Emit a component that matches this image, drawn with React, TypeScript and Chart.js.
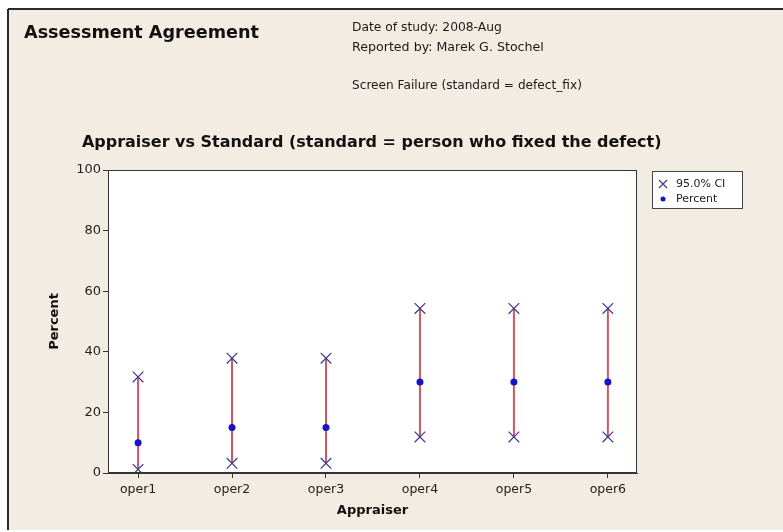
import React, { useEffect, useRef } from "react";
import { Chart, registerables } from "chart.js";

Chart.register(...registerables);

const CATEGORIES = ["oper1", "oper2", "oper3", "oper4", "oper5", "oper6"];
const PERCENT = [10, 15, 15, 30, 30, 30];
const CI_LOWER = [1.2, 3.2, 3.2, 11.9, 11.9, 11.9];
const CI_UPPER = [31.7, 37.9, 37.9, 54.3, 54.3, 54.3];
const Y_TICKS = [0, 20, 40, 60, 80, 100];

const MAIN_TITLE = "Assessment Agreement";
const HEADER_LINES = [
  "Date of study: 2008-Aug",
  "Reported by: Marek G. Stochel",
  "Screen Failure (standard = defect_fix)",
];
const CHART_TITLE = "Appraiser vs Standard (standard = person who fixed the defect)";
const X_TITLE = "Appraiser";
const Y_TITLE = "Percent";
const LEGEND_CI = "95.0% CI";
const LEGEND_PCT = "Percent";

const FONT = "'DejaVu Sans', Verdana, sans-serif";
const BEIGE = "#f2ece3";
const CI_LINE = "#d2555f";
const CI_MARK = "#3a3a8c";
const PCT_COLOR = "#1414cc";

function fitText(
  ctx: CanvasRenderingContext2D,
  text: string,
  x: number,
  y: number,
  width: number,
  weight: string,
  base: number,
  color: string
) {
  ctx.font = `${weight} ${base}px ${FONT}`;
  const w = ctx.measureText(text).width;
  const size = Math.max(6, base * (width / w));
  ctx.font = `${weight} ${size.toFixed(2)}px ${FONT}`;
  ctx.fillStyle = color;
  ctx.textAlign = "left";
  ctx.textBaseline = "middle";
  ctx.fillText(text, x, y);
}

const decorPlugin = {
  id: "decor",
  beforeDraw(chart: any) {
    const { ctx, chartArea } = chart;
    ctx.save();
    ctx.fillStyle = "#ffffff";
    ctx.fillRect(0, 0, chart.width, chart.height);
    ctx.fillStyle = BEIGE;
    ctx.fillRect(8, 9, chart.width - 8, 521);
    ctx.strokeStyle = "#2a2a2a";
    ctx.lineWidth = 2;
    ctx.beginPath();
    ctx.moveTo(8, 9);
    ctx.lineTo(chart.width, 9);
    ctx.moveTo(8, 9);
    ctx.lineTo(8, 530);
    ctx.stroke();
    ctx.fillStyle = "#ffffff";
    ctx.fillRect(chartArea.left, chartArea.top, chartArea.right - chartArea.left, chartArea.bottom - chartArea.top);
    ctx.restore();
  },
  afterDraw(chart: any) {
    const { ctx, chartArea } = chart;
    ctx.save();
    ctx.strokeStyle = "#333333";
    ctx.lineWidth = 1;
    ctx.strokeRect(chartArea.left + 0.5, chartArea.top + 0.5, chartArea.right - chartArea.left - 1, chartArea.bottom - chartArea.top - 1);

    fitText(ctx, MAIN_TITLE, 24, 33, 235, "bold", 18, "#111111");
    fitText(ctx, HEADER_LINES[0], 352, 28, 150, "normal", 11, "#1a1a1a");
    fitText(ctx, HEADER_LINES[1], 352, 48, 192, "normal", 11, "#1a1a1a");
    fitText(ctx, HEADER_LINES[2], 352, 86, 230, "normal", 11, "#1a1a1a");
    fitText(ctx, CHART_TITLE, 82, 143, 580, "bold", 14, "#111111");

    // legend
    const lx = 652, ly = 171, lw = 90, lh = 37;
    ctx.fillStyle = "#ffffff";
    ctx.fillRect(lx, ly, lw, lh);
    ctx.strokeStyle = "#444444";
    ctx.lineWidth = 1;
    ctx.strokeRect(lx + 0.5, ly + 0.5, lw, lh);
    ctx.strokeStyle = CI_MARK;
    ctx.lineWidth = 1.2;
    ctx.beginPath();
    ctx.moveTo(659, 180);
    ctx.lineTo(667, 188);
    ctx.moveTo(667, 180);
    ctx.lineTo(659, 188);
    ctx.stroke();
    ctx.fillStyle = PCT_COLOR;
    ctx.beginPath();
    ctx.arc(663, 199, 2.5, 0, Math.PI * 2);
    ctx.fill();
    ctx.font = `normal 11px ${FONT}`;
    ctx.fillStyle = "#222222";
    ctx.textAlign = "left";
    ctx.textBaseline = "middle";
    ctx.fillText(LEGEND_CI, 676, 184);
    ctx.fillText(LEGEND_PCT, 676, 199);
    ctx.restore();
  },
};

export default function App() {
  const ref = useRef<HTMLCanvasElement>(null);

  useEffect(() => {
    document.body.style.margin = "0";
    const canvas = ref.current;
    if (!canvas) return;

    const ciLineData: any[] = [];
    const ciMarkData: any[] = [];
    CATEGORIES.forEach((_, i) => {
      ciLineData.push({ x: i + 1, y: CI_LOWER[i] });
      ciLineData.push({ x: i + 1, y: CI_UPPER[i] });
      ciLineData.push({ x: i + 1.5, y: null });
      ciMarkData.push({ x: i + 1, y: CI_LOWER[i] });
      ciMarkData.push({ x: i + 1, y: CI_UPPER[i] });
    });
    const pctData = PERCENT.map((v, i) => ({ x: i + 1, y: v }));

    const chart = new Chart(canvas, {
      type: "scatter",
      data: {
        datasets: [
          {
            label: LEGEND_PCT,
            data: pctData,
            pointStyle: "circle",
            pointRadius: 3.5,
            backgroundColor: PCT_COLOR,
            borderColor: PCT_COLOR,
            borderWidth: 0,
            order: 1,
          },
          {
            label: LEGEND_CI,
            data: ciMarkData,
            pointStyle: "crossRot",
            pointRadius: 7.5,
            borderColor: CI_MARK,
            backgroundColor: CI_MARK,
            borderWidth: 1.2,
            order: 2,
          },
          {
            label: "CI range",
            type: "line",
            data: ciLineData,
            showLine: true,
            spanGaps: false,
            borderColor: CI_LINE,
            borderWidth: 2,
            pointRadius: 0,
            order: 3,
          } as any,
        ],
      },
      options: {
        responsive: false,
        animation: false,
        layout: { padding: { left: 0, top: 170, right: 146, bottom: 0 } },
        plugins: {
          legend: { display: false },
          title: { display: false },
          tooltip: { enabled: false },
        },
        scales: {
          x: {
            type: "linear",
            min: 0.68,
            max: 6.31,
            afterBuildTicks: (scale: any) => {
              scale.ticks = CATEGORIES.map((_, i) => ({ value: i + 1 }));
            },
            afterFit: (scale: any) => {
              scale.height = 59;
            },
            ticks: {
              color: "#222222",
              font: { family: FONT, size: 12.5 },
              padding: 4,
              maxRotation: 0,
              callback: (v: any) => CATEGORIES[Math.round(Number(v)) - 1] ?? "",
            },
            grid: { drawOnChartArea: false, drawTicks: true, tickLength: 5, color: "#333333" },
            border: { display: true, color: "#333333" },
            title: {
              display: true,
              text: X_TITLE,
              color: "#111111",
              font: { family: FONT, size: 13, weight: "bold" },
              padding: { top: 14, bottom: 14 },
            },
          },
          y: {
            type: "linear",
            min: 0,
            max: 100,
            afterBuildTicks: (scale: any) => {
              scale.ticks = Y_TICKS.map((v) => ({ value: v }));
            },
            afterFit: (scale: any) => {
              scale.width = 108;
            },
            ticks: {
              color: "#222222",
              font: { family: FONT, size: 13 },
              padding: 2,
            },
            grid: { drawOnChartArea: false, drawTicks: true, tickLength: 5, color: "#333333" },
            border: { display: true, color: "#333333" },
            title: {
              display: true,
              text: Y_TITLE,
              color: "#111111",
              font: { family: FONT, size: 13, weight: "bold" },
              padding: { top: 47, bottom: 0 },
            },
          },
        },
      },
      plugins: [decorPlugin],
    });

    return () => chart.destroy();
  }, []);

  return (
    <div style={{ width: 783, height: 532 }}>
      <canvas ref={ref} width={783} height={532} style={{ display: "block" }} />
    </div>
  );
}
